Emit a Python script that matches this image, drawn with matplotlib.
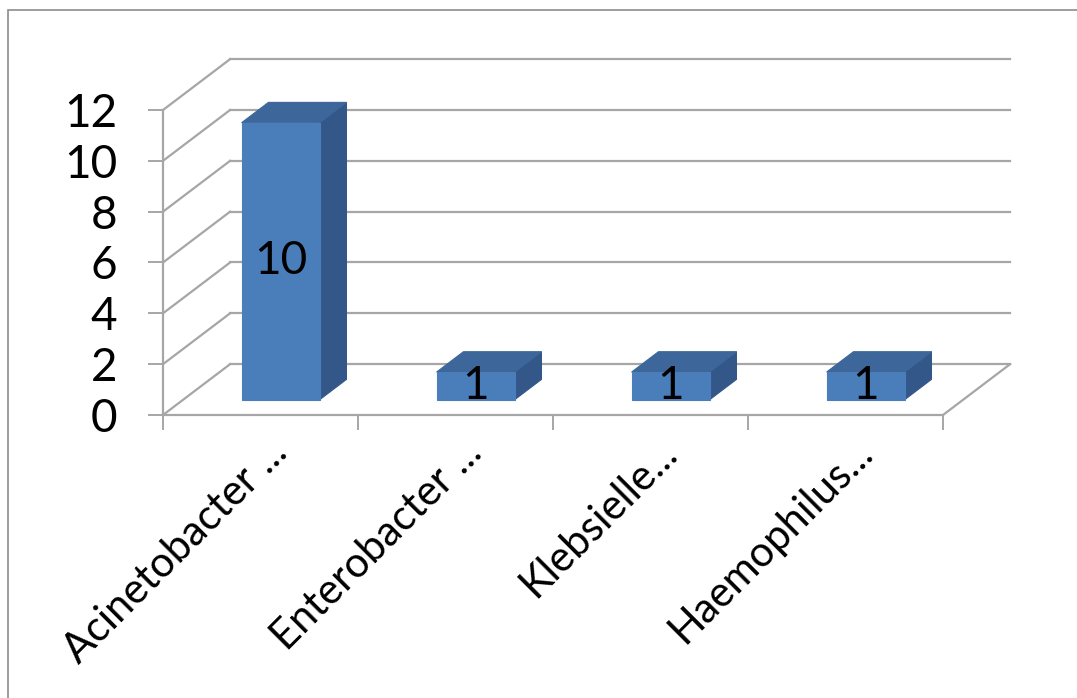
import matplotlib
matplotlib.use("Agg")
import matplotlib.pyplot as plt
import matplotlib.transforms as mtransforms
from matplotlib.patches import Polygon, Rectangle

categories = ["Acinetobacter ...", "Enterobacter ...", "Klebsielle...", "Haemophilus..."]
counts = [10, 1, 1, 1]
y_ticks = [0, 2, 4, 6, 8, 10, 12]

W, H, DPI = 1077, 698, 100

# oblique depth of the walls, in data units (categories, counts)
DEPTH_X, DEPTH_Y = 0.344, 2.0
BAR_FRONT, BAR_BACK = 0.3, 0.7
BAR_WIDTH = 0.4
BAR_SCALE = 1.09

GRID = "#a6a6a6"
FRONT, TOP, SIDE = "#4a7ebb", "#3d669a", "#34578a"

plt.rcParams["font.family"] = ["Lato", "DejaVu Sans"]

fig = plt.figure(figsize=(W / DPI, H / DPI), dpi=DPI)
ax = fig.add_axes([163 / W, (H - 415) / H, 780 / W, 305 / H])
ax.set_xlim(0, len(categories))
ax.set_ylim(0, 12)
ax.patch.set_visible(False)


def proj(c, v, d):
    return c + DEPTH_X * d, v + DEPTH_Y * d


# back wall gridlines and side wall diagonals
n = len(categories)
for v in y_ticks:
    x0, y0 = proj(0, v, 1)
    x1, y1 = proj(n, v, 1)
    ax.plot([x0, x1], [y0, y1], color=GRID, lw=1.6, clip_on=False, zorder=1)
    ax.plot([0, x0], [v, y0], color=GRID, lw=1.6, clip_on=False, zorder=1)
fx, fy = proj(n, 0, 1)
ax.plot([n, fx], [0, fy], color=GRID, lw=1.6, clip_on=False, zorder=1)

# 3d columns
for i, v in enumerate(counts):
    h = v * BAR_SCALE
    l = i + 0.5 - BAR_WIDTH / 2
    r = l + BAR_WIDTH
    front = [proj(l, 0, BAR_FRONT), proj(r, 0, BAR_FRONT), proj(r, h, BAR_FRONT), proj(l, h, BAR_FRONT)]
    top = [proj(l, h, BAR_FRONT), proj(r, h, BAR_FRONT), proj(r, h, BAR_BACK), proj(l, h, BAR_BACK)]
    side = [proj(r, 0, BAR_FRONT), proj(r, 0, BAR_BACK), proj(r, h, BAR_BACK), proj(r, h, BAR_FRONT)]
    for pts, col in [(side, SIDE), (top, TOP), (front, FRONT)]:
        ax.add_patch(Polygon(pts, closed=True, fc=col, ec=col, lw=0.8, clip_on=False, zorder=3))
    tx, ty = proj(i + 0.5, h / 2, BAR_FRONT)
    ax.text(tx, ty, str(v), ha="center", va="center", fontsize=33, color="black", zorder=5)

for s in ["top", "right"]:
    ax.spines[s].set_visible(False)
for s in ["left", "bottom"]:
    ax.spines[s].set_color(GRID)
    ax.spines[s].set_linewidth(1.6)
    ax.spines[s].set_zorder(2)

ax.set_yticks(y_ticks)
ax.set_yticklabels([str(t) for t in y_ticks])
ax.set_xticks(range(n + 1))
ax.set_xticklabels([])
ax.tick_params(axis="both", length=10.8, width=1.4, color=GRID, direction="out")
ax.tick_params(axis="y", pad=22, labelsize=33)

# rotated category names hanging under each slot
shift = mtransforms.ScaledTranslation(29 / DPI, -40 / DPI, fig.dpi_scale_trans)
for i, name in enumerate(categories):
    ax.text(i + 0.5, 0, name, rotation=45, rotation_mode="anchor", ha="right",
            va="baseline", fontsize=30, transform=ax.transData + shift)

fig.patches.append(Rectangle((7.5 / W, -0.05), 1.1, 1 - 10 / H + 0.05, transform=fig.transFigure,
                             fill=False, ec="#8c8c8c", lw=1.2))

fig.savefig("out.png", dpi=DPI)
